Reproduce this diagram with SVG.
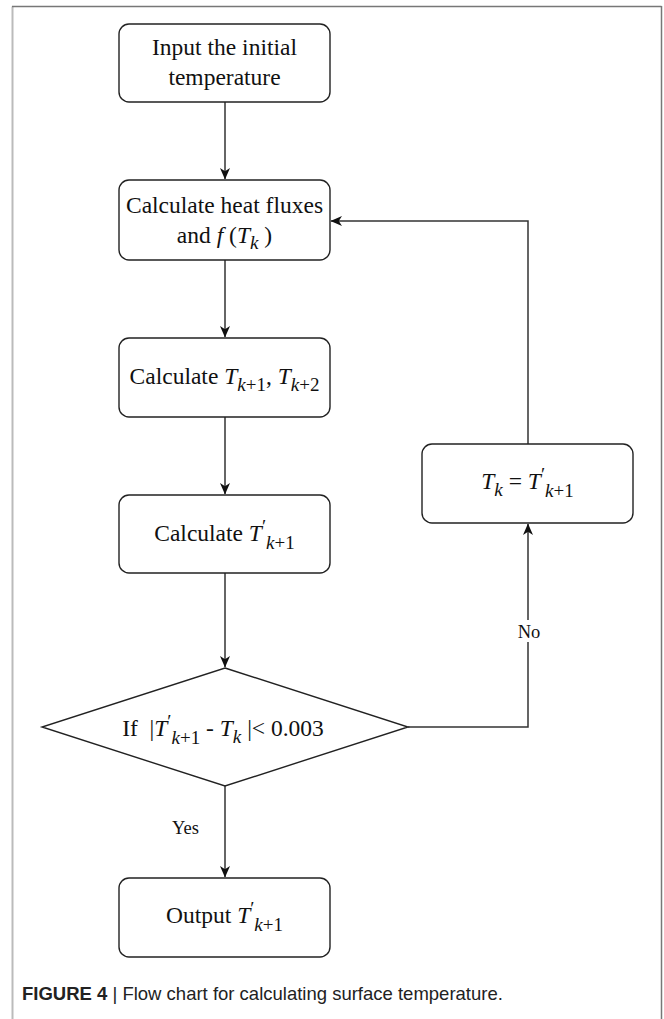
<svg xmlns="http://www.w3.org/2000/svg" width="664" height="1019" viewBox="0 0 664 1019">
<style>
.box{fill:#fff;stroke:#222;stroke-width:1.4}
.conn{fill:none;stroke:#333;stroke-width:1.5}
.t{font-family:"Liberation Serif","Times New Roman",serif;font-size:23.5px;fill:#111;text-anchor:middle}
.lbl{font-family:"Liberation Serif","Times New Roman",serif;font-size:18.5px;fill:#111;text-anchor:middle}
.i{font-style:italic}
.s{font-size:19px}
.cap{font-family:"Liberation Sans",Arial,sans-serif;font-size:18.5px;fill:#222}
</style>
<defs>
<marker id="arr" markerWidth="13" markerHeight="11" refX="11" refY="5.5" orient="auto" markerUnits="userSpaceOnUse">
<path d="M0,0.5 L11.5,5.5 L0,10.5 L3.2,5.5 Z" fill="#111"/>
</marker>
</defs>
<rect width="664" height="1019" fill="#fff"/>
<g id="frame">
<line x1="12.5" y1="6.5" x2="12.5" y2="1019" stroke="#bbb" stroke-width="2"/>
<line x1="12" y1="6.5" x2="661.5" y2="6.5" stroke="#777" stroke-width="1.5"/>
<line x1="661.5" y1="6" x2="661.5" y2="1019" stroke="#777" stroke-width="1.5"/>
</g>
<g id="connectors">
<line class="conn" x1="225" y1="102" x2="225" y2="179" marker-end="url(#arr)"/>
<line class="conn" x1="225" y1="260" x2="225" y2="337" marker-end="url(#arr)"/>
<line class="conn" x1="225" y1="417" x2="225" y2="494" marker-end="url(#arr)"/>
<line class="conn" x1="225" y1="573" x2="225" y2="667" marker-end="url(#arr)"/>
<line class="conn" x1="225" y1="786" x2="225" y2="877" marker-end="url(#arr)"/>
<path class="conn" d="M408,727 H528 V524" marker-end="url(#arr)"/>
<path class="conn" d="M528,444 V221 H331" marker-end="url(#arr)"/>
<text class="lbl" x="185.5" y="834">Yes</text>
<rect x="513" y="620" width="32" height="22" fill="#fff"/>
<text class="lbl" x="529" y="638">No</text>
</g>
<g id="n1">
<rect class="box" x="119" y="24" width="211" height="78" rx="10"/>
<text class="t" x="224.5" y="55">Input the initial</text>
<text class="t" x="224.5" y="85">temperature</text>
</g>
<g id="n2">
<rect class="box" x="119" y="180" width="211" height="80" rx="10"/>
<text class="t" x="224.5" y="213">Calculate heat fluxes</text>
<text class="t" x="224.5" y="243">and <tspan class="i">f</tspan> (<tspan class="i">T</tspan><tspan class="i s" dy="6">k</tspan><tspan dy="-6"> )</tspan></text>
</g>
<g id="n3">
<rect class="box" x="119" y="338" width="211" height="79" rx="10"/>
<text class="t" x="224.5" y="384">Calculate <tspan class="i">T</tspan><tspan class="i s" dy="7">k</tspan><tspan class="s">+1</tspan><tspan dy="-7">, </tspan><tspan class="i">T</tspan><tspan class="i s" dy="7">k</tspan><tspan class="s">+2</tspan></text>
</g>
<g id="n4">
<rect class="box" x="119" y="495" width="211" height="78" rx="10"/>
<text class="t" x="224.5" y="541">Calculate <tspan class="i">T</tspan><tspan class="s" dy="-8">′</tspan><tspan class="i s" dy="16">k</tspan><tspan class="s">+1</tspan></text>
</g>
<g id="n5">
<polygon class="box" points="225,668 408,727 225,786 42,727"/>
<text class="t" x="223" y="736">If&#160; |<tspan class="i">T</tspan><tspan class="s" dy="-8">′</tspan><tspan class="i s" dy="16">k</tspan><tspan class="s">+1</tspan><tspan dy="-8"> - </tspan><tspan class="i">T</tspan><tspan class="i s" dy="7">k</tspan><tspan dy="-7"> |&lt; 0.003</tspan></text>
</g>
<g id="n6">
<rect class="box" x="422" y="444" width="211" height="79" rx="10"/>
<text class="t" x="527.5" y="489"><tspan class="i">T</tspan><tspan class="i s" dy="7">k</tspan><tspan dy="-7"> = </tspan><tspan class="i">T</tspan><tspan class="s" dy="-8">′</tspan><tspan class="i s" dy="16">k</tspan><tspan class="s">+1</tspan></text>
</g>
<g id="n7">
<rect class="box" x="119" y="878" width="211" height="79" rx="10"/>
<text class="t" x="224.5" y="923">Output <tspan class="i">T</tspan><tspan class="s" dy="-8">′</tspan><tspan class="i s" dy="16">k</tspan><tspan class="s">+1</tspan></text>
</g>
<g id="caption">
<text class="cap" x="22" y="1000"><tspan font-weight="bold">FIGURE 4</tspan> | Flow chart for calculating surface temperature.</text>
</g>
</svg>
